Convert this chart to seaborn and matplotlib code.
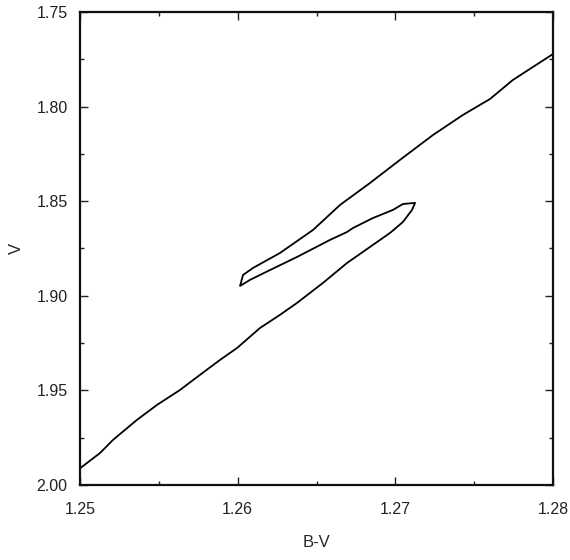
import numpy as np
import pandas as pd
import matplotlib
matplotlib.use("Agg")
import matplotlib.pyplot as plt
import seaborn as sns
from matplotlib.ticker import MultipleLocator

# contour traced along its path (B-V, V)
bv = [1.2500, 1.25127, 1.25209, 1.25361, 1.25488, 1.25634, 1.25761, 1.25888,
      1.25996, 1.26142, 1.26268, 1.26376, 1.26541, 1.26693, 1.26839, 1.26966,
      1.27048, 1.27106, 1.27125, 1.27048, 1.26985, 1.26858, 1.26731, 1.26693,
      1.26585, 1.26376, 1.26205, 1.26078, 1.26015, 1.26034, 1.26097, 1.26268,
      1.26478, 1.26649, 1.26839, 1.27029, 1.27239, 1.27429, 1.27600, 1.27746,
      1.2800]
v = [1.9912, 1.9831, 1.9762, 1.9656, 1.9577, 1.9498, 1.9418, 1.9339,
     1.9276, 1.9170, 1.9101, 1.9038, 1.8932, 1.8827, 1.8742, 1.8668,
     1.8610, 1.8546, 1.8509, 1.8515, 1.8546, 1.8589, 1.8642, 1.8663,
     1.8705, 1.8795, 1.8864, 1.8916, 1.8948, 1.8890, 1.8853, 1.8774,
     1.8652, 1.8520, 1.8404, 1.8282, 1.8150, 1.8044, 1.7960, 1.7859,
     1.7722]

df = pd.DataFrame({"B-V": bv, "V": v})

sns.set_style("ticks")
plt.rcParams["font.family"] = ["Liberation Sans", "DejaVu Sans"]

fig = plt.figure(figsize=(5.7, 5.6), dpi=100)
ax = fig.add_axes([0.1404, 0.134, 0.8298, 0.8446])

sns.lineplot(data=df, x="B-V", y="V", sort=False, estimator=None,
             color="black", linewidth=1.3, ax=ax)

ax.set_xlim(1.25, 1.28)
ax.set_ylim(2.00, 1.75)
ax.xaxis.set_major_locator(MultipleLocator(0.01))
ax.xaxis.set_minor_locator(MultipleLocator(0.005))
ax.yaxis.set_major_locator(MultipleLocator(0.05))
ax.yaxis.set_minor_locator(MultipleLocator(0.025))
ax.xaxis.set_major_formatter(matplotlib.ticker.FormatStrFormatter("%.2f"))
ax.yaxis.set_major_formatter(matplotlib.ticker.FormatStrFormatter("%.2f"))

ax.tick_params(which="both", direction="in", top=True, right=True,
               colors="#222222", labelsize=11.5, width=1)
ax.tick_params(which="major", length=6)
ax.tick_params(axis="x", which="major", pad=12)
ax.tick_params(axis="y", which="major", pad=9)
ax.tick_params(which="minor", length=3)
for s in ax.spines.values():
    s.set_linewidth(1.6)
    s.set_color("#111111")

ax.set_xlabel("B-V", fontsize=12, labelpad=13)
ax.set_ylabel("V", fontsize=12, labelpad=9)

fig.savefig("out.png", dpi=100)
